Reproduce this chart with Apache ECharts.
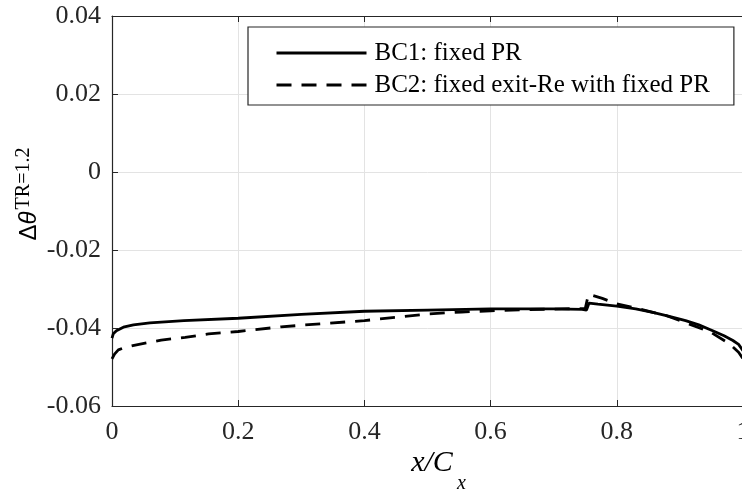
<!DOCTYPE html>
<html>
<head>
<meta charset="utf-8">
<script src="https://cdn.jsdelivr.net/npm/echarts@6/dist/echarts.min.js"></script>
<style>
  html, body { margin: 0; padding: 0; background: #fff; }
  #chart { width: 742px; height: 495px; }
</style>
</head>
<body>
<div id="chart"></div>
<script>
// ---- data ----
const seriesNames = ['BC1: fixed PR', 'BC2: fixed exit-Re with fixed PR'];

const bc1X = [0, 0.002, 0.007, 0.018, 0.034, 0.06, 0.114, 0.2, 0.3, 0.4, 0.5, 0.6, 0.7, 0.745, 0.752, 0.756, 0.77, 0.8, 0.83, 0.857, 0.88, 0.909, 0.93, 0.952, 0.97, 0.984, 0.993, 1.0];
const bc1Y = [-0.0426, -0.0415, -0.0407, -0.0398, -0.0392, -0.0387, -0.0381, -0.0375, -0.0365, -0.0357, -0.0354, -0.0351, -0.0351, -0.0352, -0.0354, -0.0336, -0.0339, -0.0344, -0.0351, -0.0360, -0.0369, -0.0381, -0.0392, -0.0407, -0.0420, -0.0432, -0.0442, -0.0458];

const bc2X = [0, 0.004, 0.01, 0.02, 0.033, 0.078, 0.116, 0.153, 0.2, 0.268, 0.3, 0.4, 0.5, 0.554, 0.6, 0.65, 0.713, 0.75, 0.755, 0.761, 0.777, 0.8, 0.835, 0.878, 0.915, 0.949, 0.979, 0.993, 1.0];
const bc2Y = [-0.0479, -0.0467, -0.0456, -0.0450, -0.0445, -0.0431, -0.0424, -0.0415, -0.0409, -0.0397, -0.0393, -0.0381, -0.0364, -0.0359, -0.0356, -0.0353, -0.0351, -0.0350, -0.0314, -0.0316, -0.0324, -0.0338, -0.0351, -0.0368, -0.0390, -0.0411, -0.0441, -0.0462, -0.0479];

const xTicks = { min: 0, max: 1, interval: 0.2 };
const yTicks = { min: -0.06, max: 0.04, interval: 0.02 };

// ---- chart ----
const zip = (xs, ys) => xs.map((x, i) => [x, ys[i]]);
const AX = '#262626';
const GRID = '#e3e3e3';
const SERIF = '"Liberation Serif", "Times New Roman", serif';

const chart = echarts.init(document.getElementById('chart'), null, { renderer: 'canvas' });

chart.setOption({
  animation: false,
  backgroundColor: '#fff',
  grid: { left: 112, top: 16, width: 631, height: 390, containLabel: false, outerBoundsMode: 'none' },
  xAxis: [
    {
      type: 'value', position: 'bottom',
      min: xTicks.min, max: xTicks.max, interval: xTicks.interval,
      axisLine: { show: true, onZero: false, lineStyle: { color: AX, width: 1.2 } },
      axisTick: { show: true, inside: true, length: 6, lineStyle: { color: AX } },
      splitLine: { show: true, lineStyle: { color: GRID, width: 1 } },
      axisLabel: {
        color: AX, fontFamily: SERIF, fontSize: 26, margin: 13,
        hideOverlap: false,
        formatter: v => String(parseFloat(v.toFixed(2)))
      }
    },
    {
      type: 'value', position: 'top',
      min: xTicks.min, max: xTicks.max, interval: xTicks.interval,
      axisLine: { show: true, onZero: false, lineStyle: { color: AX, width: 1.2 } },
      axisTick: { show: true, inside: true, length: 6, lineStyle: { color: AX } },
      splitLine: { show: false },
      axisLabel: { show: false }
    }
  ],
  yAxis: {
    type: 'value',
    min: yTicks.min, max: yTicks.max, interval: yTicks.interval,
    axisLine: { show: true, onZero: false, lineStyle: { color: AX, width: 1.2 } },
    axisTick: { show: true, inside: true, length: 6, lineStyle: { color: AX } },
    splitLine: { show: true, lineStyle: { color: GRID, width: 1 } },
    axisLabel: {
      color: AX, fontFamily: SERIF, fontSize: 26, margin: 11,
      formatter: v => { const r = Math.round(v * 100) / 100; return r === 0 ? '0' : r.toFixed(2); }
    }
  },
  legend: {
    orient: 'vertical',
    left: 248, top: 27,
    padding: [13, 24, 7, 27],
    itemGap: 6,
    itemWidth: 90, itemHeight: 14,
    backgroundColor: '#fff',
    borderColor: AX, borderWidth: 1.2, borderRadius: 0,
    itemStyle: { opacity: 0 },
    lineStyle: { width: 3 },
    textStyle: { color: '#000', fontFamily: SERIF, fontSize: 25, lineHeight: 26, padding: [0, 0, 0, 3] },
    data: seriesNames
  },
  series: [
    {
      name: seriesNames[0], type: 'line', xAxisIndex: 0,
      symbol: 'none', showSymbol: false, smooth: false,
      lineStyle: { color: '#000', width: 2.8, type: 'solid' },
      itemStyle: { color: '#000' },
      data: zip(bc1X, bc1Y), z: 3
    },
    {
      name: seriesNames[1], type: 'line', xAxisIndex: 0,
      symbol: 'none', showSymbol: false, smooth: false,
      lineStyle: { color: '#000', width: 2.8, type: [15, 10] },
      itemStyle: { color: '#000' },
      data: zip(bc2X, bc2Y), z: 2
    }
  ],
  graphic: [
    {
      type: 'text', x: 26, y: 194, rotation: Math.PI / 2,
      style: {
        text: '{a|Δ}{b|θ}{c|TR=1.2}',
        align: 'center', verticalAlign: 'middle',
        rich: {
          a: { fontFamily: '"Liberation Sans", Arial, sans-serif', fontSize: 24, lineHeight: 30, fill: '#000', verticalAlign: 'bottom' },
          b: { fontFamily: '"Liberation Sans", Arial, sans-serif', fontStyle: 'italic', fontSize: 24, lineHeight: 30, fill: '#000', verticalAlign: 'bottom' },
          c: { fontFamily: SERIF, fontSize: 20, lineHeight: 20, fill: '#000', verticalAlign: 'bottom', padding: [0, 0, 7, 2] }
        }
      }
    },
    {
      type: 'text', x: 432, y: 463,
      style: { text: 'x/C', fontFamily: SERIF, fontStyle: 'italic', fontSize: 30, fill: '#000', align: 'center', verticalAlign: 'middle' }
    },
    {
      type: 'text', x: 457, y: 484,
      style: { text: 'x', fontFamily: SERIF, fontStyle: 'italic', fontSize: 20, fill: '#000', align: 'left', verticalAlign: 'middle' }
    }
  ]
});
</script>
</body>
</html>
